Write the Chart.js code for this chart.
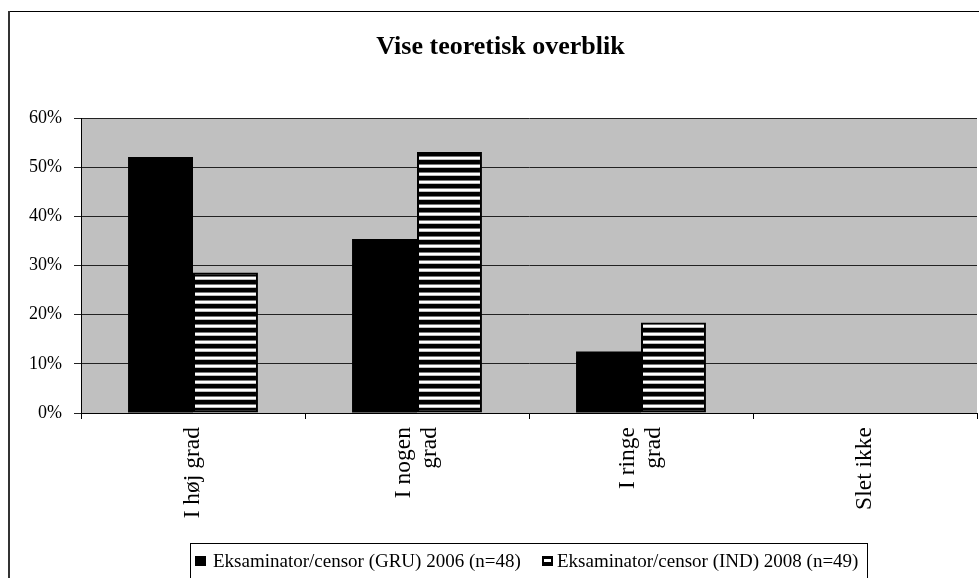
<!DOCTYPE html>
<html>
<head>
<meta charset="utf-8">
<script src="https://cdn.jsdelivr.net/npm/chart.js@4/dist/chart.umd.min.js"></script>
<style>
  html, body { margin: 0; padding: 0; background: #fff; }
  #wrap { width: 979px; height: 578px; }
</style>
</head>
<body>
<div id="wrap"><canvas id="c" width="979" height="578"></canvas></div>
<script>
// Answer categories (multi-line labels are arrays)
const categories = ['I høj grad', ['I nogen', 'grad'], ['I ringe', 'grad'], 'Slet ikke'];
// Share of respondents per answer, in percent
const gru2006 = [52.1, 35.4, 12.5, 0];
const ind2008 = [28.6, 53.1, 18.4, 0];
const seriesNames = ['Eksaminator/censor (GRU) 2006 (n=48)', 'Eksaminator/censor (IND) 2008 (n=49)'];
const yTicks = [0, 10, 20, 30, 40, 50, 60];

const SERIF = '"Liberation Serif", "Times New Roman", serif';
const X_FONT_SIZE = 23.5;
const X_LINE_HEIGHT = 1.08;

// Horizontal black/white stripe fill
function stripePattern() {
  const p = document.createElement('canvas');
  p.width = 8; p.height = 8;
  const g = p.getContext('2d');
  const rows = ['#000', '#000', '#000', '#000', '#777', '#fff', '#fff', '#bbb'];
  rows.forEach((c, i) => { g.fillStyle = c; g.fillRect(0, i, 8, 1); });
  return g.createPattern(p, 'repeat');
}

// Center multi-line rotated category labels on their tick
const centerRotatedLabels = {
  id: 'centerRotatedLabels',
  beforeDraw(chart) {
    const s = chart.scales.x;
    const lh = X_FONT_SIZE * X_LINE_HEIGHT;
    s.getLabelItems(chart.chartArea).forEach(it => {
      if (Array.isArray(it.label) && it.label.length > 1 && !it._centered) {
        it.options.translation[0] -= (it.label.length - 1) * lh / 2;
        it._centered = true;
      }
    });
  }
};

const frameAndLegend = {
  id: 'frameAndLegend',
  beforeDraw(chart) {
    const { ctx, chartArea: a } = chart;
    ctx.save();
    // outer frame
    ctx.fillStyle = '#fff';
    ctx.fillRect(0, 0, chart.width, chart.height);
    ctx.strokeStyle = '#000';
    ctx.lineWidth = 1;
    ctx.beginPath();
    ctx.moveTo(8, 11.5); ctx.lineTo(chart.width + 2, 11.5);
    ctx.stroke();
    ctx.strokeStyle = '#333';
    ctx.lineWidth = 2;
    ctx.beginPath();
    ctx.moveTo(9, 11); ctx.lineTo(9, chart.height + 2);
    ctx.stroke();
    // plot background
    ctx.fillStyle = '#c0c0c0';
    ctx.fillRect(a.left, a.top, a.right - a.left, a.bottom - a.top);
    ctx.restore();
  },
  afterDraw(chart) {
    const { ctx } = chart;
    const ds = chart.data.datasets;
    ctx.save();
    // legend box
    ctx.strokeStyle = '#000';
    ctx.lineWidth = 1;
    ctx.strokeRect(190.5, 543.5, 677, 60);
    ctx.font = '19px ' + SERIF;
    ctx.textBaseline = 'alphabetic';
    const baseY = 567;
    // first entry: solid square
    ctx.fillStyle = '#000';
    ctx.fillRect(195, 556, 11, 10);
    ctx.fillText(ds[0].label, 213, baseY);
    // second entry: framed square with a white band
    const x2 = Math.round(213 + ctx.measureText(ds[0].label).width + 21);
    ctx.fillRect(x2, 556, 11, 10);
    ctx.fillStyle = '#fff';
    ctx.fillRect(x2 + 2, 559, 7, 3);
    ctx.fillStyle = '#000';
    ctx.fillText(ds[1].label, x2 + 15, baseY);
    ctx.restore();
  }
};

new Chart(document.getElementById('c'), {
  type: 'bar',
  data: {
    labels: categories,
    datasets: [
      {
        label: seriesNames[0],
        data: gru2006,
        backgroundColor: '#000',
        borderWidth: 0,
        categoryPercentage: 0.58,
        barPercentage: 1.0
      },
      {
        label: seriesNames[1],
        data: ind2008,
        backgroundColor: stripePattern(),
        borderColor: '#000',
        borderWidth: 2,
        borderSkipped: false,
        categoryPercentage: 0.58,
        barPercentage: 1.0
      }
    ]
  },
  options: {
    responsive: false,
    animation: false,
    devicePixelRatio: 1,
    layout: { padding: { left: 24, right: 2, top: 0, bottom: 0 } },
    plugins: {
      legend: { display: false },
      tooltip: { enabled: false },
      title: {
        display: true,
        text: 'Vise teoretisk overblik',
        color: '#000',
        font: { family: SERIF, size: 26, weight: 'bold' },
        padding: { top: 32, bottom: 55 }
      }
    },
    scales: {
      x: {
        afterFit(scale) { scale.height = 165; },
        grid: {
          offset: true,
          drawOnChartArea: false,
          drawTicks: true,
          tickLength: 6,
          color: '#000'
        },
        border: { display: true, color: '#000', width: 1 },
        ticks: {
          autoSkip: false,
          minRotation: 90,
          maxRotation: 90,
          padding: 8,
          color: '#000',
          font: { family: SERIF, size: X_FONT_SIZE, lineHeight: X_LINE_HEIGHT }
        }
      },
      y: {
        min: 0,
        max: 60,
        afterFit(scale) { scale.width = 57; },
        afterBuildTicks(scale) { scale.ticks = yTicks.map(v => ({ value: v })); },
        grid: {
          color: '#222',
          lineWidth: 1,
          drawTicks: true,
          tickLength: 7
        },
        border: { display: true, color: '#000', width: 1 },
        ticks: {
          padding: 12,
          color: '#000',
          font: { family: SERIF, size: 18 },
          callback: v => v + '%'
        }
      }
    }
  },
  plugins: [frameAndLegend, centerRotatedLabels]
});
</script>
</body>
</html>
